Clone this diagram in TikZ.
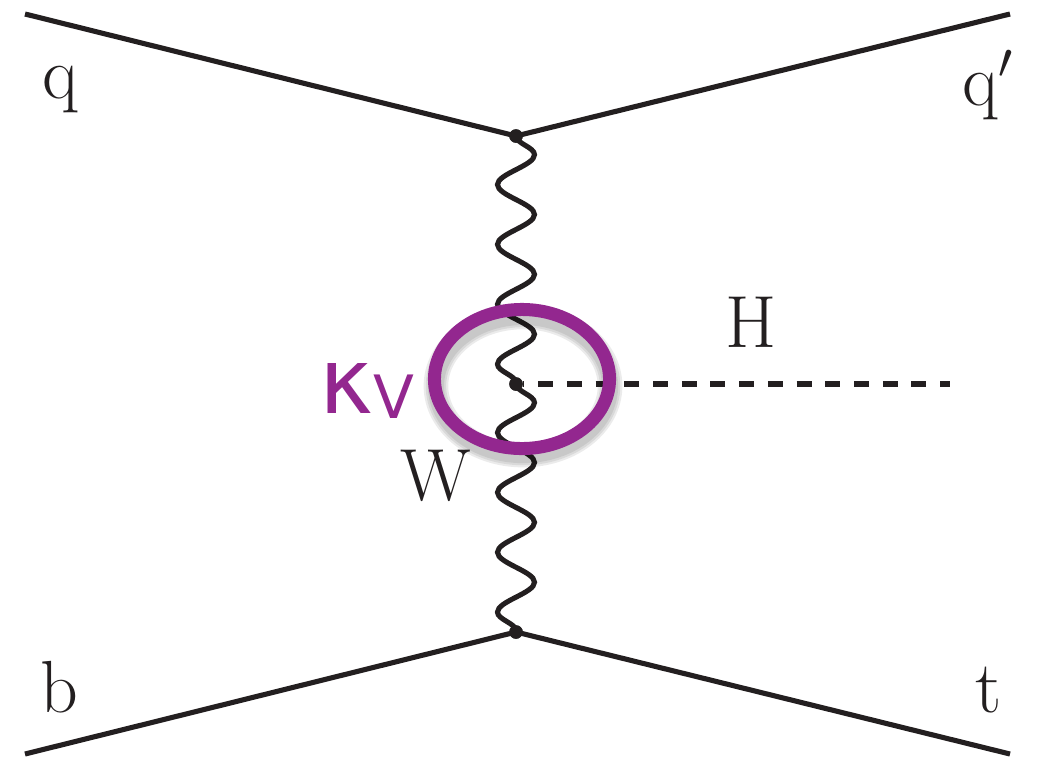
\documentclass[tikz,border=0pt]{standalone}
\usepackage{fontspec}
\newfontfamily\kvfont{DejaVu Sans}
\usetikzlibrary{decorations.pathmorphing,shapes.geometric,positioning}
\definecolor{ink}{HTML}{231F20}
\definecolor{kappa}{HTML}{93278F}
\tikzset{
  fermion/.style={line width=1.45pt,ink},
  boson/.style={line width=1.45pt,ink,decorate,decoration={snake,amplitude=1.85mm,segment length=5.98mm}},
  scalar/.style={line width=1.45pt,ink,dash pattern=on 1.5mm off 1.37mm,dash phase=1.4mm},
  vtx/.style={circle,fill=ink,inner sep=0pt,minimum size=1.35mm},
  particle/.style={font=\fontsize{21}{25}\selectfont,text=ink,inner sep=0pt,anchor=base},
  ring/.style={ellipse,draw=kappa,line width=3.7pt,inner sep=0pt,minimum width=17.5mm,minimum height=13.9mm},
  halo/.style={black,opacity=0.08}
}

\begin{document}
\begin{tikzpicture}[x=0.01cm,y=-0.01cm]
  \useasboundingbox (0,0) rectangle (1039,769);
  % vertices and outer legs
  \node[vtx] (vtop) at (516,136) {};
  \node[vtx] (vmid) at (516,384) {};
  \node[vtx] (vbot) at (516,632) {};
  \coordinate (qin) at (25,14);
  \coordinate (qout) at (1010,14);
  \coordinate (bin) at (25,754);
  \coordinate (tout) at (1010,754);
  \coordinate (hend) at (950,384);
  \draw[fermion] (qin) -- (vtop.center) -- (qout);
  \draw[fermion] (bin) -- (vbot.center) -- (tout);
  \draw[boson] (vtop.center) -- (vmid.center);
  \draw[boson] (vmid.center) -- (vbot.center);
  \draw[scalar] (vmid.east) -- (hend);
  \node[vtx] at (vtop) {};
  \node[vtx] at (vmid) {};
  \node[vtx] at (vbot) {};
  % kappa_V coupling
  \foreach \w in {7pt,5.8pt,4.6pt}
    \draw[halo,line width=\w] (523,386) ellipse [x radius=8.7mm,y radius=6.9mm];
  \node[ring] (loop) at (522,379) {};
  % labels
  \node[particle] (q) at (60,98) {q};
  \node[particle,anchor=base west] (qp) at (962,105) {q$'$};
  \node[particle] (b) at (59,712) {b};
  \node[particle] (t) at (989,712) {t};
  \node[particle] (H) at (751,347) {H};
  \node[particle] (W) at (436,500) {W};
  \node[anchor=base west,inner sep=0pt,text=kappa] (kv) at (319,413)
    {\kvfont\fontsize{26}{30}\selectfont κ\raisebox{-0.5mm}{\fontsize{17}{20}\selectfont V}};
\end{tikzpicture}
\end{document}
